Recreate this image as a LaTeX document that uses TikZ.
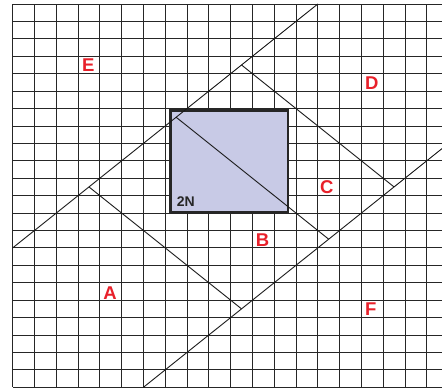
\documentclass[tikz,border=0pt]{standalone}
\usepackage{fontspec}
\setmainfont{Liberation Sans}
\usetikzlibrary{positioning}
\definecolor{plateblue}{HTML}{C8CAE6}
\definecolor{zonered}{HTML}{E8202A}

\begin{document}
\begin{tikzpicture}[
            x=21.79pt, y=-17.42pt,
            gridline/.style={line width=0.9pt, black!85},
            cutline/.style={line width=0.9pt, black!90},
            plate/.style={rectangle, draw=black!85, line width=2.6pt, fill=plateblue, minimum width=117.3pt, minimum height=101.3pt, inner sep=0pt},
            zone/.style={text=zonered, font=\bfseries\fontsize{18.5}{19}\selectfont, inner sep=0pt},
            tag/.style={text=black!85, font=\bfseries\fontsize{14}{14}\selectfont, inner sep=0pt}
          ]
          \useasboundingbox (-0.583,-0.2296) rectangle (19.70,22.10);

          % Rejilla
          \foreach \c in {0,...,19}
            \draw [gridline] (\c,0) -- (\c,22);
          \foreach \r in {0,...,22}
            \draw [gridline] (0,\r) -- (19.70,\r);

          % Placa
          \node (plate) [plate] at (9.943,9.033) {};
          \node (twoN) [tag] at (7.94,11.37) {2N};

          % Puntos
          \coordinate (l1a) at (0,14);
          \coordinate (l1b) at (14,0);
          \coordinate (l2a) at (6,22);
          \coordinate (l2b) at (19.70,8.30);
          \coordinate (p1a) at (3.5,10.5);
          \coordinate (p1b) at (10.5,17.5);
          \coordinate (p2a) at (7.5,6.5);
          \coordinate (p2b) at (14.5,13.5);
          \coordinate (p3a) at (10.5,3.5);
          \coordinate (p3b) at (17.5,10.5);

          % Cortes
          \draw [cutline] (l1a) -- (l1b);
          \draw [cutline] (l2a) -- (l2b);
          \draw [cutline] (p1a) -- (p1b);
          \draw [cutline] (p2a) -- (p2b);
          \draw [cutline] (p3a) -- (p3b);

          % Zonas
          \node (zoneE) [zone] at (3.47,3.5) {E};
          \node (zoneD) [zone] at (16.48,4.52) {D};
          \node (zoneC) [zone] at (14.41,10.52) {C};
          \node (zoneB) [zone] at (11.47,13.55) {B};
          \node (zoneA) [zone] at (4.47,16.61) {A};
          \node (zoneF) [zone] at (16.43,17.51) {F};

        \end{tikzpicture}
\end{document}
